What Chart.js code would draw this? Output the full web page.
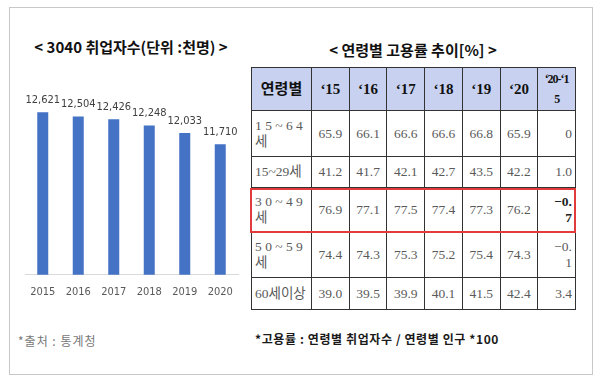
<!DOCTYPE html>
<html><head><meta charset="utf-8">
<script src="https://cdn.jsdelivr.net/npm/chart.js@4"></script>
<style>
html,body{margin:0;padding:0;background:#fff;width:600px;height:383px;overflow:hidden;font-family:"Noto Sans CJK KR","Noto Sans",sans-serif;}
#frame{position:absolute;left:9px;top:7px;width:582px;height:366px;border:1px solid #c8c8c8;}
.title{position:absolute;font-weight:bold;font-size:15px;color:#111;white-space:nowrap;transform:translateX(-50%);line-height:18px;}
#barwrap{position:absolute;left:10px;top:85px;width:235px;height:225px;}
#tbl{position:absolute;left:251px;top:67px;border-collapse:collapse;table-layout:fixed;width:325px;}
#tbl td{border:1px solid #333;padding:0 3px;font-family:"Liberation Serif","Noto Sans CJK KR",serif;font-size:13.5px;color:#5a5a5a;text-align:center;line-height:16px;overflow:hidden;}
#tbl tr.hd td{background:#c8d2f0;color:#111;font-weight:bold;font-size:15px;}
#tbl td.lbl{text-align:left;font-family:"Liberation Serif","Noto Sans CJK KR",serif;}
#tbl td.df{text-align:right;}
#redbox{position:absolute;left:250px;top:188px;width:322px;height:41px;border:2px solid #e23b3b;}
.note{position:absolute;white-space:nowrap;}
</style></head>
<body>
<div id="frame"></div>
<div class="title" id="t1" style="left:131px;top:38px;"></div>
<div class="title" id="t2" style="left:413px;top:41px;"></div>
<div id="barwrap"><canvas id="c" width="235" height="225"></canvas></div>
<table id="tbl"></table>
<div id="redbox"></div>
<div class="note" id="n1" style="left:18px;top:332px;font-size:12px;color:#777;letter-spacing:1px;"></div>
<div class="note" id="n2" style="left:255px;top:330px;font-size:12px;color:#1a1a1a;font-weight:bold;letter-spacing:0.6px;"></div>
<script>
// ---- data ----
const barTitle = "< 3040 취업자수(단위 :천명) >";
const years = ["2015","2016","2017","2018","2019","2020"];
const employed3040 = [12621,12504,12426,12248,12033,11710];

const tableTitle = "< 연령별 고용률 추이[%] >";
const headerLabel = "연령별";
const yearCols = ["‘15","‘16","‘17","‘18","‘19","‘20"];
const diffCol = "‘20-‘15";
const ageGroups = ["1 5 ~ 6 4 세","15~29세","3 0 ~ 4 9 세","5 0 ~ 5 9 세","60세이상"];
const rate15_64 = ["65.9","66.1","66.6","66.6","66.8","65.9"];
const rate15_29 = ["41.2","41.7","42.1","42.7","43.5","42.2"];
const rate30_49 = ["76.9","77.1","77.5","77.4","77.3","76.2"];
const rate50_59 = ["74.4","74.3","75.3","75.2","75.4","74.3"];
const rate60p   = ["39.0","39.5","39.9","40.1","41.5","42.4"];
const diff20_15 = ["0","1.0","−0.7","−0.1","3.4"];
const sourceNote = "*출처 : 통계청";
const rateNote = "*고용률 : 연령별 취업자수 / 연령별 인구 *100";

// ---- text ----
document.getElementById('t1').textContent = barTitle;
document.getElementById('t2').textContent = tableTitle;
document.getElementById('n1').textContent = sourceNote;
document.getElementById('n2').textContent = rateNote;

// ---- table ----
const rows = [rate15_64, rate15_29, rate30_49, rate50_59, rate60p];
const rowH = [43,46,31,45,45,32];
function chunk(s,n){ const out=[]; for(let i=0;i<s.length;i+=n) out.push(s.slice(i,i+n)); return out; }
const tbl = document.getElementById('tbl');
const cg = document.createElement('colgroup');
[60,37.7,37.7,37.7,37.7,37.7,37.7,37.7].forEach(w=>{const c=document.createElement('col');c.style.width=w+'px';cg.appendChild(c);});
tbl.appendChild(cg);
const hr = document.createElement('tr'); hr.className='hd'; hr.style.height=rowH[0]+'px';
[headerLabel,...yearCols].forEach(t=>{const td=document.createElement('td');td.textContent=t;hr.appendChild(td);});
const hd=document.createElement('td'); hd.style.fontSize='12px'; hd.style.lineHeight='20px'; hd.style.letterSpacing='-1px';
chunk(diffCol,6).forEach((p,i)=>{ if(i) hd.appendChild(document.createElement('br')); hd.appendChild(document.createTextNode(p)); });
hr.appendChild(hd); tbl.appendChild(hr);
rows.forEach((vals,r)=>{
  const tr=document.createElement('tr'); tr.style.height=rowH[r+1]+'px';
  const l=document.createElement('td'); l.className='lbl'; l.textContent=ageGroups[r]; tr.appendChild(l);
  vals.forEach(v=>{const td=document.createElement('td');td.textContent=v;tr.appendChild(td);});
  const d=document.createElement('td'); d.className='df';
  if(r===2){ d.style.fontWeight='bold'; d.style.color='#222'; }
  chunk(diff20_15[r],3).forEach((p,i)=>{ if(i) d.appendChild(document.createElement('br')); d.appendChild(document.createTextNode(p)); });
  tr.appendChild(d); tbl.appendChild(tr);
});

// ---- bar chart ----
const narrow = '"Liberation Sans Narrow","DejaVu Sans Condensed","Roboto",sans-serif';
const valueLabels = {
  id:'valueLabels',
  afterDatasetsDraw(chart){
    const ctx=chart.ctx; const meta=chart.getDatasetMeta(0);
    ctx.save(); ctx.font='11px '+narrow; ctx.fillStyle='#404040';
    ctx.textAlign='center'; ctx.textBaseline='middle';
    meta.data.forEach((el,i)=>{ ctx.fillText(employed3040[i].toLocaleString('en-US'), el.x, el.y-12); });
    ctx.restore();
  }
};
new Chart(document.getElementById('c'),{
  type:'bar',
  data:{labels:years,datasets:[{data:employed3040,backgroundColor:'#4472c4',borderWidth:0,categoryPercentage:1,barPercentage:0.31}]},
  options:{
    responsive:false, devicePixelRatio:1, animation:false,
    layout:{padding:{left:15,right:7,top:14,bottom:0}},
    plugins:{legend:{display:false},tooltip:{enabled:false},title:{display:false}},
    scales:{
      x:{grid:{display:false,drawTicks:false,tickLength:0},border:{display:true,color:'#d9d9d9'},
         ticks:{color:'#595959',font:{family:narrow,size:11},padding:11}},
      y:{display:false,min:8000,max:13000}
    }
  },
  plugins:[valueLabels]
});
</script>
</body></html>
